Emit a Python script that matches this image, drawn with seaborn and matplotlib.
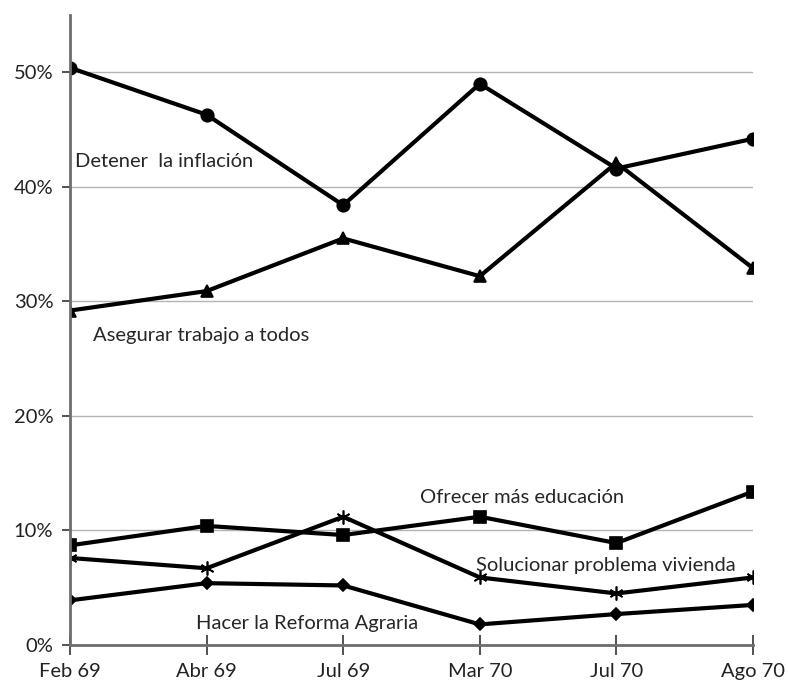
import seaborn as sns
import matplotlib.pyplot as plt
import pandas as pd
import numpy as np

# Data (percent)
periods = ['Feb 69', 'Abr 69', 'Jul 69', 'Mar 70', 'Jul 70', 'Ago 70']
inflacion = [50.4, 46.3, 38.4, 49.0, 41.6, 44.2]
trabajo = [29.2, 30.9, 35.5, 32.2, 42.1, 32.9]
educacion = [8.7, 10.4, 9.6, 11.2, 8.9, 13.4]
vivienda = [7.6, 6.7, 11.2, 5.9, 4.5, 5.9]
reforma = [3.9, 5.4, 5.2, 1.8, 2.7, 3.5]

series = {
    'Detener  la inflación': inflacion,
    'Asegurar trabajo a todos': trabajo,
    'Ofrecer más educación': educacion,
    'Solucionar problema vivienda': vivienda,
    'Hacer la Reforma Agraria': reforma,
}

df = pd.DataFrame([
    {'Periodo': p, 'Valor': v, 'Serie': name}
    for name, vals in series.items()
    for p, v in zip(periods, vals)
])

sns.set_theme(style='white')
plt.rcParams['font.family'] = ['Lato', 'DejaVu Sans']

fig = plt.figure(figsize=(7.88, 6.84), dpi=100)
ax = fig.add_axes([0.0888, 0.057, 0.8668, 0.921])

markers = {
    'Detener  la inflación': 'o',
    'Asegurar trabajo a todos': '^',
    'Ofrecer más educación': 's',
    'Solucionar problema vivienda': (6, 2, 0),
    'Hacer la Reforma Agraria': 'D',
}
sizes = {
    'Detener  la inflación': 9,
    'Asegurar trabajo a todos': 8,
    'Ofrecer más educación': 8,
    'Solucionar problema vivienda': 10,
    'Hacer la Reforma Agraria': 6,
}

for name in series:
    sub = df[df['Serie'] == name]
    sns.lineplot(data=sub, x='Periodo', y='Valor', ax=ax, color='black',
                 linewidth=3.0, marker=markers[name], markersize=sizes[name],
                 markeredgecolor='black', markeredgewidth=1.2, sort=False)

# series labels
fs = 14.5
ax.text(0.04, 42.2, 'Detener  la inflación', fontsize=fs, va='center', ha='left')
ax.text(0.17, 27.0, 'Asegurar trabajo a todos', fontsize=fs, va='center', ha='left')
ax.text(2.56, 12.9, 'Ofrecer más educación', fontsize=fs, va='center', ha='left')
ax.text(2.97, 6.9, 'Solucionar problema vivienda', fontsize=fs, va='center', ha='left')
ax.text(0.92, 1.9, 'Hacer la Reforma Agraria', fontsize=fs, va='center', ha='left')

ax.set_xlim(0, 5)
ax.set_ylim(0, 55)
ax.set_yticks([0, 10, 20, 30, 40, 50])
ax.set_yticklabels(['0%', '10%', '20%', '30%', '40%', '50%'])
ax.set_xlabel('')
ax.set_ylabel('')
ax.grid(axis='y', color='#b3b3b3', linewidth=1.0)
ax.set_axisbelow(True)

for s in ['top', 'right']:
    ax.spines[s].set_visible(False)
for s in ['left', 'bottom']:
    ax.spines[s].set_color('#6e6e6e')
    ax.spines[s].set_linewidth(2.0)

ax.tick_params(axis='y', direction='out', length=6, width=1.2, color='#333333',
               labelsize=fs, pad=6, left=True, labelcolor='#222222')
ax.tick_params(axis='x', direction='inout', length=14, width=1.2, color='#333333',
               labelsize=fs, pad=6, bottom=True, labelcolor='#222222')

fig.savefig('out.png', dpi=100)
